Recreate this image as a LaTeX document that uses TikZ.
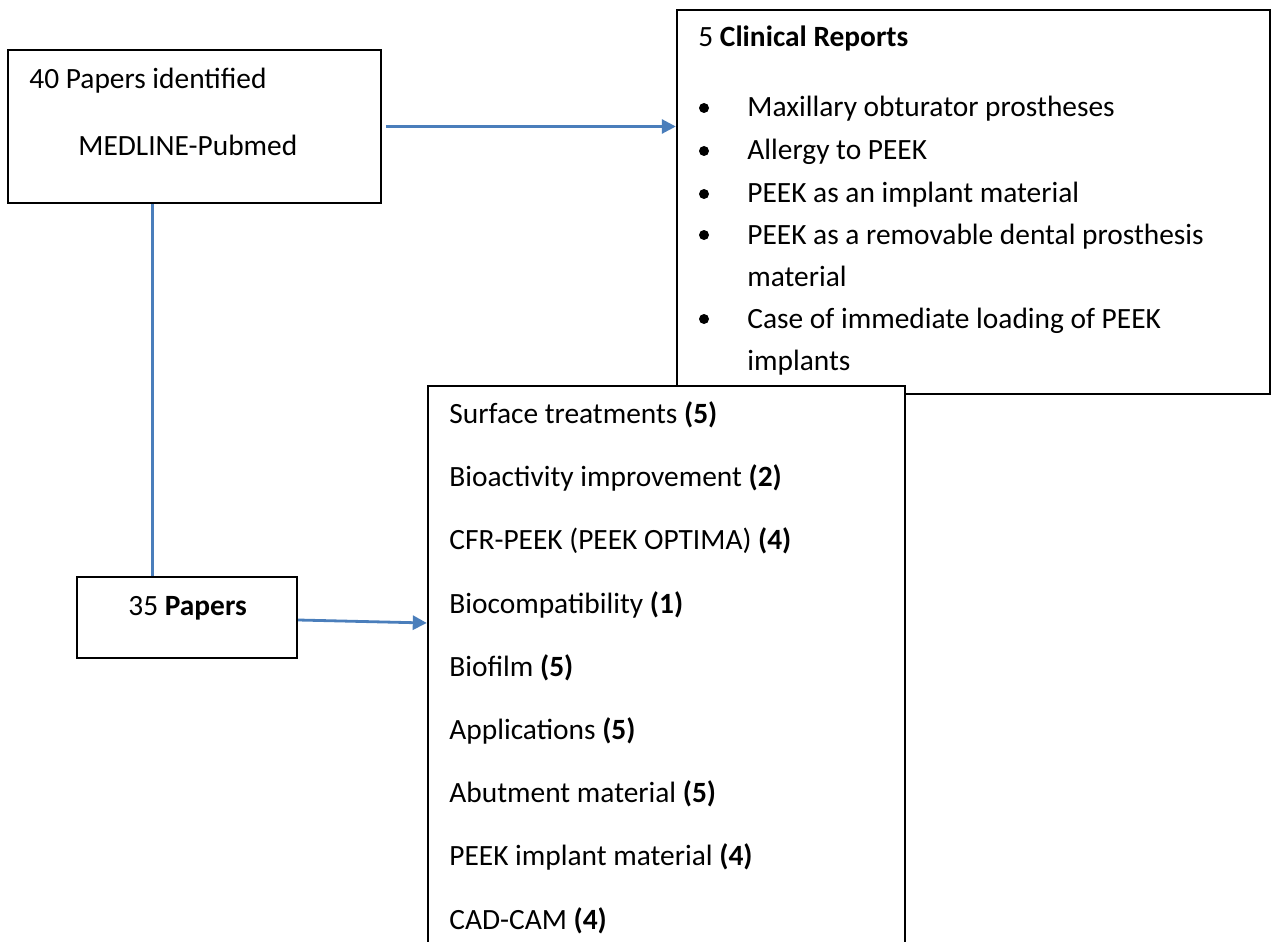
\documentclass[tikz,border=0pt]{standalone}
\usepackage{fontspec}
\setmainfont{Carlito}
\usetikzlibrary{arrows.meta,calc}
\definecolor{linkblue}{RGB}{74,126,187}
\tikzset{
	box/.style={draw=black, line width=1.2pt, fill=white, inner sep=0pt},
	txt/.style={anchor=base west, inner sep=0pt, font=\fontsize{14.7}{17}\selectfont},
	dot/.style={circle, fill=black, inner sep=0pt, minimum size=5pt},
	link/.style={draw=linkblue, line width=1.4pt},
	arrowlink/.style={link, -{Triangle[length=7pt,width=7pt]}}
}

\begin{document}
\begin{tikzpicture}[x=0.5pt,y=-0.5pt]
			%%%%% START %%%%%
			\clip (0,0) rectangle (1272,941);
			
			\node[box, minimum width=186.5pt, minimum height=76.5pt] (papers) at (194.5,126.5) {};
			\node[box, minimum width=296.5pt, minimum height=192pt] (reports) at (973.5,202) {};
			\node[box, minimum width=238.5pt, minimum height=287pt] (topics) at (666.5,673) {};
			\node[box, minimum width=110pt, minimum height=40.5pt] (papers35) at (187,617.5) {};
			
			\node[txt] (identified) at (29,89) {40 Papers identified};
			\node[txt] (medline) at (78,156) {MEDLINE-Pubmed};
			
			\node[txt] (clinical) at (698,47) {5 \textbf{Clinical Reports}};
			\node[dot] (dot1) at (704,108) {};
			\node[txt] (maxillary) at (747,117) {Maxillary obturator prostheses};
			\node[dot] (dot2) at (704,151) {};
			\node[txt] (allergy) at (747,160) {Allergy to PEEK};
			\node[dot] (dot3) at (704,194) {};
			\node[txt] (implant) at (747,203) {PEEK as an implant material};
			\node[dot] (dot4) at (704,235) {};
			\node[txt] (removable) at (747,244) {PEEK as a removable dental prosthesis};
			\node[txt] (removable2) at (747,286) {material};
			\node[dot] (dot5) at (704,319) {};
			\node[txt] (loading) at (747,328) {Case of immediate loading of PEEK};
			\node[txt] (loading2) at (747,370) {implants};
			
			\node[txt] (surface) at (449,423) {Surface treatments \textbf{(5)}};
			\node[txt] (bioactivity) at (449,486) {Bioactivity improvement \textbf{(2)}};
			\node[txt] (cfr) at (449,549) {CFR-PEEK (PEEK OPTIMA) \textbf{(4)}};
			\node[txt] (biocomp) at (449,613) {Biocompatibility \textbf{(1)}};
			\node[txt] (biofilm) at (449,676) {Biofilm \textbf{(5)}};
			\node[txt] (applications) at (449,739) {Applications \textbf{(5)}};
			\node[txt] (abutment) at (449,802) {Abutment material \textbf{(5)}};
			\node[txt] (peekimplant) at (449,865) {PEEK implant material \textbf{(4)}};
			\node[txt] (cadcam) at (449,929) {CAD-CAM \textbf{(4)}};
			
			\node[txt] (thirtyfive) at (128,615) {35 \textbf{Papers}};
			
			\coordinate (drop) at ([xshift=73pt]papers.south west);
			\draw[link] (drop) -- (drop |- papers35.north);
			\draw[arrowlink, shorten <=2pt] (papers.east) -- (papers.east -| reports.west);
			\draw[arrowlink] ($(papers35.east)+(0,2.5)$) -- ($(papers35.east -| topics.west)+(0,5.5)$);
			
			%%%%% END %%%%%
\end{tikzpicture}
\end{document}
